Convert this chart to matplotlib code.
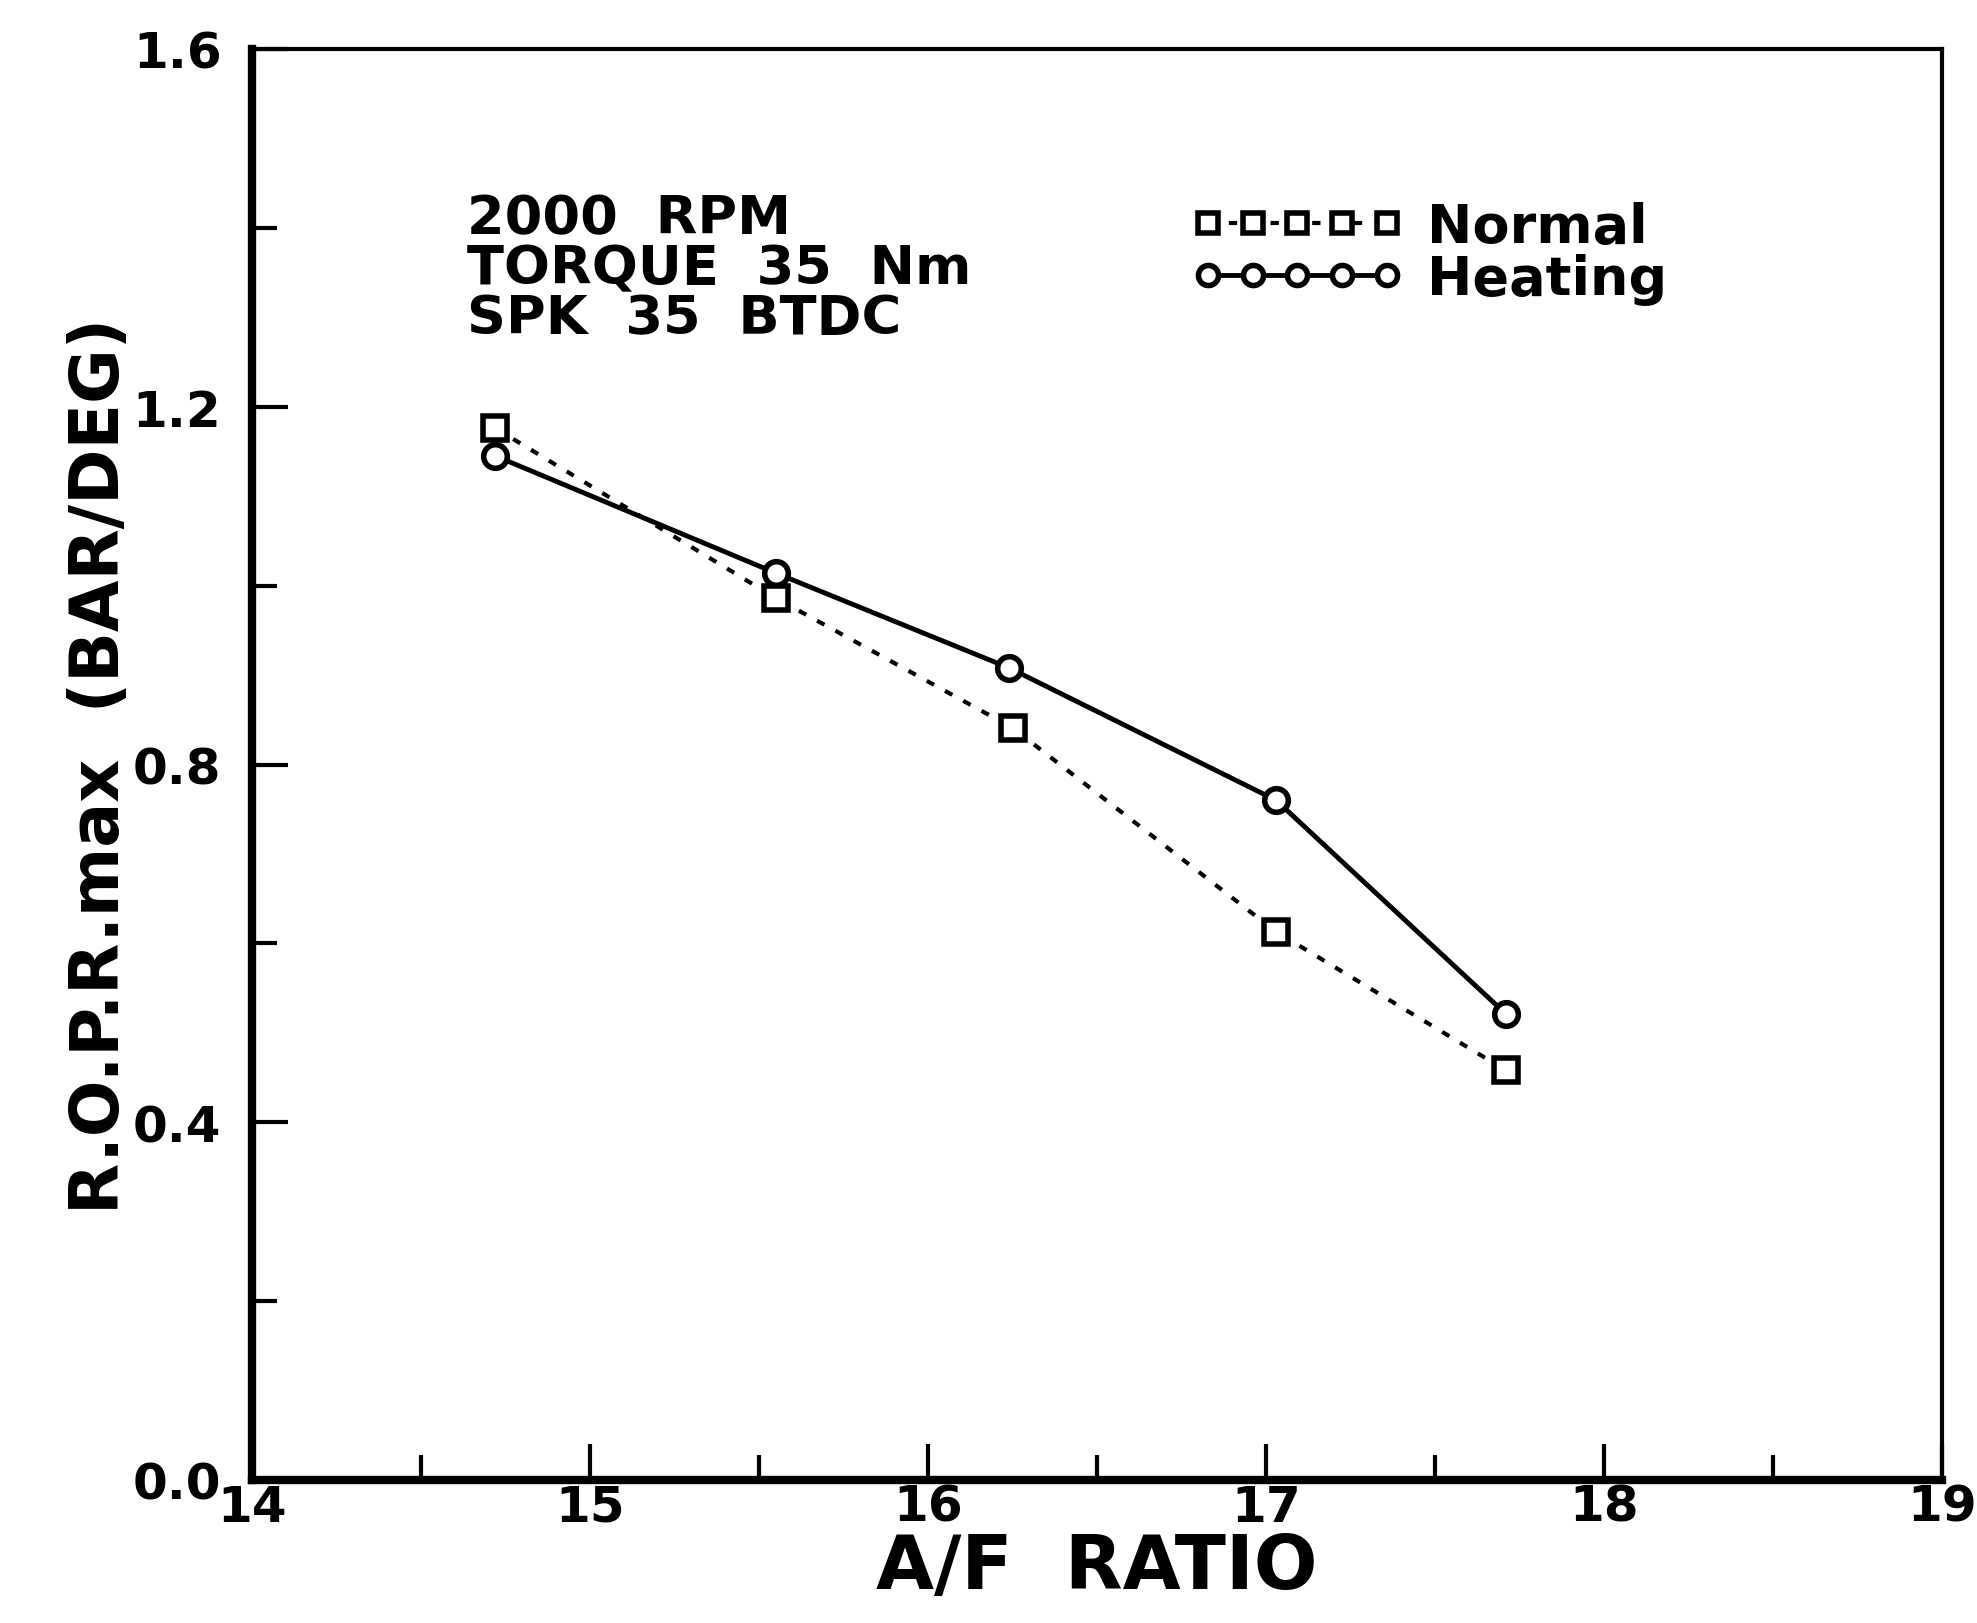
import matplotlib
matplotlib.use("Agg")
import matplotlib.pyplot as plt
from matplotlib.ticker import MultipleLocator, FixedLocator

# A/F ratio sweep at 2000 rpm
af_normal = [14.72, 15.55, 16.25, 17.03, 17.71]
ropr_normal = [1.176, 0.986, 0.841, 0.613, 0.458]

af_heating = [14.72, 15.55, 16.24, 17.03, 17.71]
ropr_heating = [1.145, 1.014, 0.908, 0.760, 0.521]

conditions = ["2000  RPM", "TORQUE  35  Nm", "SPK  35  BTDC"]

plt.rcParams['font.family'] = ['DejaVu Sans']
plt.rcParams['font.weight'] = 'bold'
plt.rcParams['axes.labelweight'] = 'bold'

fig = plt.figure(figsize=(19.77, 16.24), dpi=100)
ax = fig.add_axes([252 / 1977, 1 - 1481 / 1624, (1942 - 252) / 1977, (1481 - 50) / 1624])

ax.plot(af_normal, ropr_normal, color='black', linestyle=(0, (2, 3)), linewidth=3,
        marker='s', markersize=17, markerfacecolor='white', markeredgewidth=4,
        label='Normal')
ax.plot(af_heating, ropr_heating, color='black', linestyle='-', linewidth=3.5,
        marker='o', markersize=17, markerfacecolor='white', markeredgewidth=4,
        label='Heating')

ax.set_xlim(14, 19)
ax.set_ylim(0, 1.6)

ax.xaxis.set_major_locator(MultipleLocator(1))
ax.xaxis.set_minor_locator(MultipleLocator(0.5))
ax.yaxis.set_major_locator(MultipleLocator(0.4))
ax.yaxis.set_minor_locator(FixedLocator([0.2, 0.6, 1.0, 1.4]))
ax.yaxis.set_major_formatter(plt.FuncFormatter(lambda v, p: f"{v:.1f}"))

ax.tick_params(axis='both', which='major', direction='in', length=26, width=3,
               labelsize=36)
ax.tick_params(axis='both', which='minor', direction='in', length=18, width=3)
ax.tick_params(axis='x', which='major', pad=2)
ax.tick_params(axis='y', which='major', pad=22)

for side in ['left', 'bottom']:
    ax.spines[side].set_linewidth(6)
for side in ['top', 'right']:
    ax.spines[side].set_linewidth(3)

ax.set_xlabel('A/F  RATIO', fontsize=54, labelpad=0)
ax.set_ylabel('R.O.P.R.max  (BAR/DEG)', fontsize=48, labelpad=0)

ax.text(0.127, 0.9, "\n".join(conditions), transform=ax.transAxes,
        fontsize=39, va='top', ha='left', linespacing=0.95)

ax.legend(loc='upper left', bbox_to_anchor=(0.54, 0.913), numpoints=5,
          handlelength=3.9, handletextpad=0.45, labelspacing=0.0,
          frameon=False, fontsize=39, borderpad=0, markerscale=0.85)

fig.savefig('out.png', dpi=100)
